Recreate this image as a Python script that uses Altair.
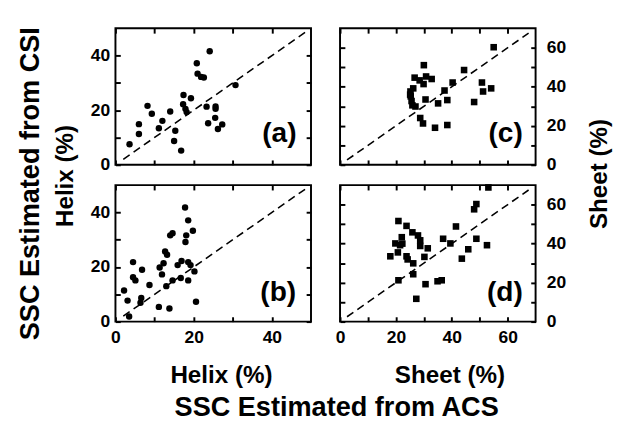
import altair as alt
import pandas as pd

# ---------------- data ----------------
a_x = [3.6, 6.0, 6.0, 8.2, 9.3, 11.1, 12.0, 14.0, 15.3, 15.0, 16.8, 17.4, 17.3, 17.9, 18.2,
       19.3, 20.8, 21.0, 21.9, 22.6, 24.1, 23.3, 25.6, 25.6, 23.7, 25.5, 26.2, 27.3, 30.7]
a_y = [7.5, 11.3, 14.9, 21.6, 18.7, 13.4, 16.1, 19.5, 12.5, 8.7, 5.2, 25.6, 22.2, 20.5, 19.3,
       24.4, 37.2, 33.4, 32.2, 32.0, 41.6, 21.3, 21.4, 20.5, 15.2, 17.2, 13.1, 14.8, 29.2]

b_x = [2.2, 3.1, 3.5, 4.5, 4.5, 5.1, 6.8, 6.6, 6.4, 8.7, 11.1, 11.3, 11.9, 12.3, 12.7, 13.2, 13.0,
       13.8, 14.0, 14.6, 14.6, 15.9, 16.9, 16.7, 17.8, 18.6, 18.1, 17.9, 19.8, 18.6, 18.6, 19.2,
       20.2, 20.6]
b_y = [11.4, 7.7, 1.9, 21.8, 16.3, 15.1, 19.0, 8.7, 6.9, 13.4, 5.4, 19.8, 17.3, 21.4, 25.7, 24.5,
       13.0, 4.8, 31.6, 32.4, 15.1, 20.7, 22.2, 16.0, 41.8, 37.1, 31.6, 29.2, 33.3, 21.8, 15.1,
       20.7, 18.4, 7.3]

c_x = [30.0, 26.7, 28.5, 30.8, 32.8, 29.9, 26.2, 25.2, 25.1, 25.3, 25.6, 25.9, 27.0, 30.6, 28.7,
       29.7, 34.0, 35.1, 37.4, 38.4, 38.4, 40.3, 44.4, 48.0, 50.8, 51.2, 54.1, 55.0]
c_y = [51.1, 44.7, 43.3, 45.3, 44.0, 41.4, 39.2, 37.6, 36.0, 35.1, 32.7, 30.5, 29.9, 33.5, 24.0,
       21.2, 19.0, 31.5, 38.1, 33.2, 20.4, 42.2, 48.6, 32.2, 42.2, 37.6, 39.2, 60.3]

d_x = [18.0, 20.9, 19.8, 20.7, 21.5, 22.1, 22.3, 23.8, 23.8, 24.2, 25.9, 26.2, 27.9, 28.7, 28.7,
       31.4, 30.2, 20.9, 26.2, 27.3, 30.6, 34.9, 36.4, 36.9, 39.5, 41.5, 43.6, 45.9, 48.0, 48.8,
       48.8, 52.6, 53.1]
d_y = [33.5, 51.6, 40.1, 35.5, 39.2, 43.3, 40.0, 49.1, 33.5, 31.9, 45.8, 29.9, 44.2, 41.7, 38.8,
       37.6, 33.2, 21.2, 24.3, 11.7, 19.2, 20.7, 21.2, 42.5, 40.1, 48.8, 32.3, 37.1, 57.6, 60.3,
       42.5, 39.2, 68.8]

helix_domain = [0, 50]
sheet_domain = [0, 70]
helix_ticks = [0, 10, 20, 30, 40]          # tick marks (labels only on multiples of 20)
sheet_ticks = [0, 10, 20, 30, 40, 50, 60]
helix_diag = [2, 48.5]
sheet_diag = [2.5, 67.5]
tags = ["(a)", "(b)", "(c)", "(d)"]
tag_x = [46.3, 46.2, 65.4, 65.4]
tag_y = [8.5, 7.7, 11.8, 10.8]

# ---------------- layout / style ----------------
W, H = 202, 141
FONT = "Liberation Sans"
TL = 5  # tick length, px (ticks drawn inward via a negative axis offset)


def ax(orient, vals, labelled=False, label_pad=6, title=None, title_size=25, tx=0, ty=0, angle=0):
    kw = dict(orient=orient, values=vals, ticks=True, tickSize=TL, tickWidth=2,
              tickColor="black", offset=-TL, domain=False, grid=False)
    if labelled:
        kw.update(labels=True, labelExpr="datum.value % 20 === 0 ? datum.label : ''",
                  labelFont=FONT, labelFontSize=18, labelFontWeight="bold", labelColor="black",
                  labelPadding=label_pad, labelFlush=False, labelOverlap=False)
    else:
        kw.update(labels=False)
    if title is None:
        kw["title"] = None
    else:
        kw.update(title=title, titleFont=FONT, titleFontSize=title_size, titleFontWeight="bold",
                  titleColor="black", titleX=tx, titleY=ty, titleAngle=angle,
                  titleAlign="center", titleBaseline="middle")
    return alt.Axis(**kw)


def panel(xs, ys, xdom, ydom, diag, shape, size, tag, tx, ty,
          ax_bottom, ax_main_y, ax_top, ax_other_y):
    xsc = alt.Scale(domain=xdom, nice=False, zero=False)
    ysc = alt.Scale(domain=ydom, nice=False, zero=False)
    line = alt.Chart(pd.DataFrame({"x": diag, "y": diag})).mark_line(
        color="black", strokeWidth=1.6, strokeDash=[8, 5]).encode(
        x=alt.X("x:Q", scale=xsc, axis=ax_top), y=alt.Y("y:Q", scale=ysc, axis=ax_other_y))
    pts = alt.Chart(pd.DataFrame({"x": xs, "y": ys})).mark_point(
        shape=shape, filled=True, size=size, color="black", opacity=1).encode(
        x=alt.X("x:Q", scale=xsc, axis=ax_bottom), y=alt.Y("y:Q", scale=ysc, axis=ax_main_y))
    txt = alt.Chart(pd.DataFrame({"x": [tx], "y": [ty], "s": [tag]})).mark_text(
        align="right", baseline="alphabetic", font=FONT, fontSize=29, fontWeight="bold",
        color="black").encode(
        x=alt.X("x:Q", scale=xsc, axis=None), y=alt.Y("y:Q", scale=ysc, axis=None), text="s:N")
    return alt.layer(line, pts, txt).resolve_axis(x="independent", y="independent").properties(
        width=W, height=H)


HT = helix_ticks
ST = sheet_ticks

pa = panel(a_x, a_y, helix_domain, helix_domain, helix_diag, "circle", 44,
           tags[0], tag_x[0], tag_y[0],
           ax("bottom", HT),
           ax("left", HT, True, 6, "Helix (%)", 25, -57, 152, 270),
           ax("top", HT),
           ax("right", HT))
pb = panel(b_x, b_y, helix_domain, helix_domain, helix_diag, "circle", 44,
           tags[1], tag_x[1], tag_y[1],
           ax("bottom", HT, True, 8, "Helix (%)", 25, 109, 60, 0),
           ax("left", HT, True, 6, "SSC Estimated from CSI", 28, -92, -2, 270),
           ax("top", HT),
           ax("right", HT))
pc = panel(c_x, c_y, sheet_domain, sheet_domain, sheet_diag, "square", 46,
           tags[2], tag_x[2], tag_y[2],
           ax("bottom", ST),
           ax("right", ST, True, 11, "Sheet (%)", 25, 70, 150, 270),
           ax("top", ST),
           ax("left", ST))
pd_ = panel(d_x, d_y, sheet_domain, sheet_domain, sheet_diag, "square", 46,
            tags[3], tag_x[3], tag_y[3],
            ax("bottom", ST, True, 8, "Sheet (%)", 25, 113, 60, 0),
            ax("right", ST, True, 11, "SSC Estimated from ACS", 28, -201, 230, 0),
            ax("top", ST),
            ax("left", ST))

chart = alt.concat(pa, pc, pb, pd_, columns=2, spacing={"row": 21, "column": 30},
                   bounds="flush").resolve_scale(x="independent", y="independent").properties(
    padding={"left": 8, "top": 11, "right": 2, "bottom": 2},
    background="white",
).configure_view(stroke="black", strokeWidth=2)

chart.save("out.html", embed_options={"renderer": "svg", "actions": False})
